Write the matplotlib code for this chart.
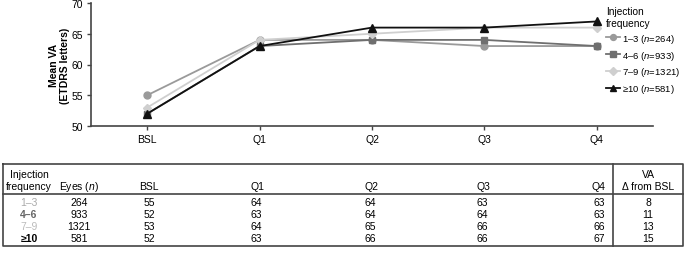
import matplotlib
matplotlib.use("Agg")
import matplotlib.pyplot as plt
from matplotlib.lines import Line2D

plt.rcParams['font.family'] = ['Liberation Sans', 'DejaVu Sans']
plt.rcParams['mathtext.fontset'] = 'custom'
plt.rcParams['mathtext.it'] = 'Liberation Sans:italic'
plt.rcParams['mathtext.rm'] = 'Liberation Sans'

# data
timepoints = ["BSL", "Q1", "Q2", "Q3", "Q4"]
groups = ["1\u20133", "4\u20136", "7\u20139", "\u226510"]
eyes_n = [264, 933, 1321, 581]
va_13 = [55, 64, 64, 63, 63]
va_46 = [52, 63, 64, 64, 63]
va_79 = [53, 64, 65, 66, 66]
va_10 = [52, 63, 66, 66, 67]
delta_bsl = [8, 11, 13, 15]

series = [va_13, va_46, va_79, va_10]
colors = ["#9a9a9a", "#6f6f6f", "#cfcfcf", "#111111"]
markers = ["o", "s", "D", "^"]
msizes = [5, 5, 4.5, 5.5]
text_colors = ["#aaaaaa", "#666666", "#bbbbbb", "#000000"]
text_weights = ["normal", "bold", "normal", "bold"]

W, H = 685, 255
fig = plt.figure(figsize=(W / 100, H / 100), dpi=100)

# chart
ax = fig.add_axes([91 / W, 1 - 127 / H, 562 / W, 123 / H])
x = range(len(timepoints))
for vals, c, m, ms, g, n in zip(series, colors, markers, msizes, groups, eyes_n):
    ax.plot(x, vals, color=c, marker=m, ms=ms, lw=1.3,
            label=f"{g} ($n$=" + f"{n})")
ax.set_xlim(-0.5, 4.5)
ax.set_ylim(50, 70)
ax.set_yticks([50, 55, 60, 65, 70])
ax.set_xticks(list(x))
ax.set_xticklabels(timepoints)
for s in ["top", "right"]:
    ax.spines[s].set_visible(False)
for s in ["left", "bottom"]:
    ax.spines[s].set_color("#444444")
    ax.spines[s].set_linewidth(1.2)
ax.tick_params(labelsize=7.5, length=3, width=1, color="#444444", pad=3)
ax.set_ylabel("Mean VA\n(ETDRS letters)", fontsize=7.5, fontweight="bold",
              labelpad=1, linespacing=1.1)

leg = ax.legend(title="Injection\nfrequency", loc="upper left",
                bbox_to_anchor=(606 / W, 1 - 7 / H), bbox_transform=fig.transFigure,
                frameon=False, fontsize=6.8, title_fontsize=7.3, handlelength=1.5,
                handletextpad=0.2, labelspacing=0.4, borderaxespad=0,
                borderpad=0, markerscale=0.85)
leg._legend_box.align = "left"
leg._legend_box.sep = 3

# table drawn in pixel coordinates
tb = fig.add_axes([0, 0, 1, 1])
tb.set_xlim(0, W)
tb.set_ylim(H, 0)
tb.axis("off")
lc = "#444444"
tb.add_line(Line2D([3, 683, 683, 3, 3], [165, 165, 247, 247, 165], color=lc, lw=1.2))
tb.add_line(Line2D([3, 683], [195, 195], color=lc, lw=1.2))
tb.add_line(Line2D([613, 613], [165, 247], color=lc, lw=1.2))

fs = 7.5
tb.text(29, 175, "Injection", ha="center", va="center", fontsize=fs)
tb.text(29, 187, "frequency", ha="center", va="center", fontsize=fs)
tb.text(79, 187, "Eyes ($n$)", ha="center", va="center", fontsize=fs)
tb.text(149, 187, "BSL", ha="center", va="center", fontsize=fs)
tb.text(251, 187, "Q1", ha="left", va="center", fontsize=fs)
tb.text(365, 187, "Q2", ha="left", va="center", fontsize=fs)
tb.text(477, 187, "Q3", ha="left", va="center", fontsize=fs)
tb.text(605, 187, "Q4", ha="right", va="center", fontsize=fs)
tb.text(648, 175, "VA", ha="center", va="center", fontsize=fs)
tb.text(648, 187, "\u0394 from BSL", ha="center", va="center", fontsize=fs)

row_y = [203, 215, 227, 239]
for i, y in enumerate(row_y):
    vals = series[i]
    tb.text(29, y, groups[i], ha="center", va="center", fontsize=fs,
            color=text_colors[i], fontweight=text_weights[i])
    tb.text(79, y, str(eyes_n[i]), ha="center", va="center", fontsize=fs)
    tb.text(149, y, str(vals[0]), ha="center", va="center", fontsize=fs)
    tb.text(251, y, str(vals[1]), ha="left", va="center", fontsize=fs)
    tb.text(365, y, str(vals[2]), ha="left", va="center", fontsize=fs)
    tb.text(477, y, str(vals[3]), ha="left", va="center", fontsize=fs)
    tb.text(605, y, str(vals[4]), ha="right", va="center", fontsize=fs)
    tb.text(648, y, str(delta_bsl[i]), ha="center", va="center", fontsize=fs)

fig.savefig("out.png", dpi=100)
